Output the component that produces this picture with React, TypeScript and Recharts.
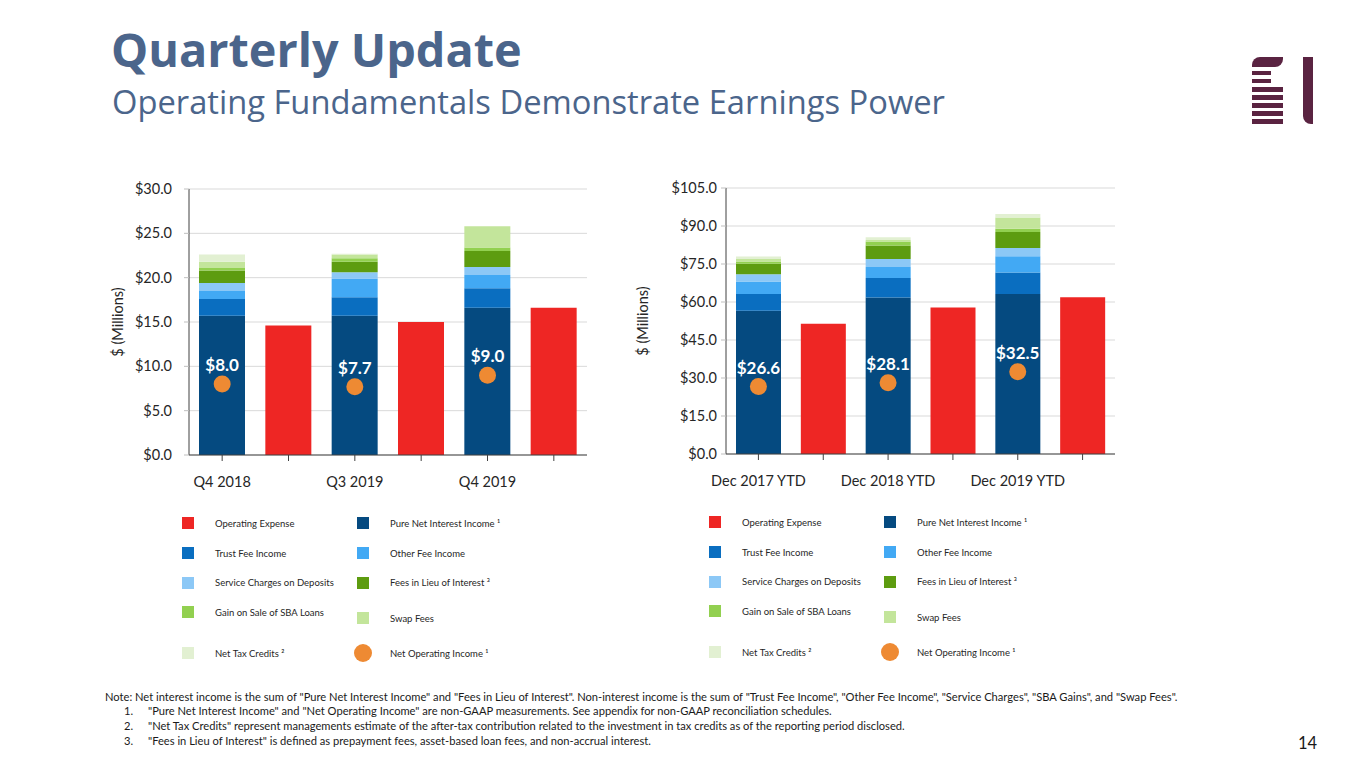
import { ComposedChart, Bar, Line, XAxis, YAxis, CartesianGrid } from 'recharts';

const C = {
  opex: '#ee2624',
  pureNii: '#054a80',
  trust: '#0a6ec0',
  other: '#42a9f4',
  service: '#8cc8f6',
  lieu: '#5d9c10',
  sba: '#92d050',
  swap: '#c3e59b',
  tax: '#e2f0d2',
  noi: '#ee8a33',
};

const FONT = 'Lato, "Noto Sans", sans-serif';
const TITLE_COLOR = '#4b658b';

// quarterly chart ($ millions)
const LEFT_CATEGORIES = ['Q4 2018', 'Q3 2019', 'Q4 2019'];
const LEFT_PURE_NII = [15.7, 15.7, 16.6];
const LEFT_TRUST = [1.9, 2.1, 2.2];
const LEFT_OTHER = [0.9, 2.1, 1.5];
const LEFT_SERVICE = [0.9, 0.7, 0.9];
const LEFT_LIEU = [1.4, 1.2, 1.8];
const LEFT_SBA = [0.3, 0.4, 0.4];
const LEFT_SWAP = [0.7, 0.4, 2.4];
const LEFT_TAX = [0.8, 0.1, 0.0];
const LEFT_OPEX = [14.6, 15.0, 16.6];
const LEFT_NOI = [8.0, 7.7, 9.0];
const LEFT_TICKS = [0, 5, 10, 15, 20, 25, 30];

// year-to-date chart ($ millions)
const RIGHT_CATEGORIES = ['Dec 2017 YTD', 'Dec 2018 YTD', 'Dec 2019 YTD'];
const RIGHT_PURE_NII = [56.5, 61.8, 63.2];
const RIGHT_TRUST = [6.7, 7.7, 8.4];
const RIGHT_OTHER = [4.9, 4.3, 6.5];
const RIGHT_SERVICE = [2.9, 3.2, 3.2];
const RIGHT_LIEU = [4.1, 5.3, 6.3];
const RIGHT_SBA = [0.9, 1.6, 1.3];
const RIGHT_SWAP = [1.0, 0.6, 4.5];
const RIGHT_TAX = [1.0, 1.1, 1.3];
const RIGHT_OPEX = [51.4, 57.8, 61.9];
const RIGHT_NOI = [26.6, 28.1, 32.5];
const RIGHT_TICKS = [0, 15, 30, 45, 60, 75, 90, 105];

const STACK_KEYS = ['pureNii', 'trust', 'other', 'service', 'lieu', 'sba', 'swap', 'tax'] as const;

const FOOTNOTES = [
  '"Pure Net Interest Income" and "Net Operating Income" are non-GAAP measurements. See appendix for non-GAAP reconciliation schedules.',
  '"Net Tax Credits" represent managements estimate of the after-tax contribution related to the investment in tax credits as of the reporting period disclosed.',
  '"Fees in Lieu of Interest" is defined as prepayment fees, asset-based loan fees, and non-accrual interest.',
];

type Series = {
  categories: string[];
  pureNii: number[];
  trust: number[];
  other: number[];
  service: number[];
  lieu: number[];
  sba: number[];
  swap: number[];
  tax: number[];
  opex: number[];
  noi: number[];
};

// one slot for the income stack, one for the expense bar, per period
function buildRows(s: Series) {
  const rows: any[] = [];
  s.categories.forEach((cat, i) => {
    rows.push({
      slot: cat,
      label: cat,
      pureNii: s.pureNii[i],
      trust: s.trust[i],
      other: s.other[i],
      service: s.service[i],
      lieu: s.lieu[i],
      sba: s.sba[i],
      swap: s.swap[i],
      tax: s.tax[i],
      noi: s.noi[i],
    });
    rows.push({ slot: cat + ' opex', label: '', opex: s.opex[i] });
  });
  return rows;
}

function NoiDot(props: any) {
  const { cx, cy, value, index } = props;
  if (value == null || cy == null) return <g key={`noi-${index}`} />;
  return (
    <g key={`noi-${index}`}>
      <circle cx={cx} cy={cy} r={8.5} fill={C.noi} />
      <text
        x={cx}
        y={cy - 13}
        textAnchor="middle"
        fill="#ffffff"
        fontFamily={FONT}
        fontWeight={700}
        fontSize={17}
      >
        {`$${value.toFixed(1)}`}
      </text>
    </g>
  );
}

function StackChart({
  rows,
  ticks,
  barSize,
  width,
  height,
  margin,
  yWidth,
  xHeight,
  yTickMargin,
}: {
  rows: any[];
  ticks: number[];
  barSize: number;
  width: number;
  height: number;
  margin: { top: number; right: number; bottom: number; left: number };
  yWidth: number;
  xHeight: number;
  yTickMargin: number;
}) {
  const tickStyle = { fill: '#262626', fontSize: 14.5, fontFamily: FONT };
  return (
    <ComposedChart width={width} height={height} data={rows} margin={margin}>
      <CartesianGrid vertical={false} stroke="#d9d9d9" />
      <XAxis
        dataKey="slot"
        interval={0}
        tickFormatter={(_v: string, i: number) => rows[i]?.label ?? ''}
        tick={tickStyle}
        tickSize={6}
        tickMargin={16}
        height={xHeight}
        axisLine={{ stroke: '#404040' }}
        tickLine={{ stroke: '#404040' }}
      />
      <YAxis
        domain={[ticks[0], ticks[ticks.length - 1]]}
        ticks={ticks}
        interval={0}
        width={yWidth}
        tickFormatter={(v: number) => `$${v.toFixed(1)}`}
        tick={tickStyle}
        tickSize={5}
        tickMargin={yTickMargin}
        axisLine={{ stroke: '#404040' }}
        tickLine={{ stroke: '#bfbfbf' }}
      />
      {STACK_KEYS.map((k) => (
        <Bar key={k} dataKey={k} stackId="a" fill={C[k]} barSize={barSize} isAnimationActive={false} />
      ))}
      <Bar dataKey="opex" stackId="a" fill={C.opex} barSize={barSize} isAnimationActive={false} />
      <Line
        dataKey="noi"
        stroke="none"
        dot={NoiDot}
        activeDot={false}
        legendType="none"
        isAnimationActive={false}
      />
    </ComposedChart>
  );
}

const LEGEND_LEFT = [
  { label: 'Operating Expense', color: C.opex, dy: 0 },
  { label: 'Trust Fee Income', color: C.trust, dy: 30 },
  { label: 'Service Charges on Deposits', color: C.service, dy: 59.5 },
  { label: 'Gain on Sale of SBA Loans', color: C.sba, dy: 89 },
  { label: 'Net Tax Credits ²', color: C.tax, dy: 130 },
];
const LEGEND_RIGHT = [
  { label: 'Pure Net Interest Income ¹', color: C.pureNii, dy: 0, circle: false },
  { label: 'Other Fee Income', color: C.other, dy: 30, circle: false },
  { label: 'Fees in Lieu of Interest ³', color: C.lieu, dy: 59.5, circle: false },
  { label: 'Swap Fees', color: C.swap, dy: 95, circle: false },
  { label: 'Net Operating Income ¹', color: C.noi, dy: 130, circle: true },
];

function LegendBlock({ x, y }: { x: number; y: number }) {
  const item = (
    it: { label: string; color: string; dy: number; circle?: boolean },
    left: number,
    key: string
  ) => (
    <div
      key={key}
      style={{
        position: 'absolute',
        left,
        top: y + it.dy - 10,
        height: 20,
        display: 'flex',
        alignItems: 'center',
        whiteSpace: 'nowrap',
      }}
    >
      {it.circle ? (
        <span
          style={{ width: 18, height: 18, marginLeft: -3, marginRight: 18, borderRadius: '50%', background: it.color }}
        />
      ) : (
        <span style={{ width: 12, height: 12, marginRight: 21, background: it.color }} />
      )}
      <span style={{ fontFamily: FONT, fontSize: 9.5, color: '#262626' }}>{it.label}</span>
    </div>
  );
  return (
    <>
      {LEGEND_LEFT.map((it, i) => item(it, x, `l${i}`))}
      {LEGEND_RIGHT.map((it, i) => item(it, x + 175, `r${i}`))}
    </>
  );
}

function Logo() {
  const color = '#5a2341';
  const lines = [
    { top: 70.7, w: 19 },
    { top: 79, w: 19 },
    { top: 87.3, w: 31 },
    { top: 95.3, w: 31 },
    { top: 103.3, w: 31 },
    { top: 111.3, w: 31 },
    { top: 119.3, w: 31 },
  ];
  return (
    <>
      <div
        style={{
          position: 'absolute',
          left: 1252,
          top: 57,
          width: 31,
          height: 9.5,
          background: color,
          borderTopLeftRadius: 8,
          borderBottomRightRadius: 8,
        }}
      />
      {lines.map((l, i) => (
        <div key={i} style={{ position: 'absolute', left: 1252, top: l.top, width: l.w, height: 4.4, background: color }} />
      ))}
      <div
        style={{
          position: 'absolute',
          left: 1303,
          top: 57,
          width: 9.5,
          height: 67,
          background: color,
          borderBottomLeftRadius: 8,
        }}
      />
    </>
  );
}

export default function App() {
  const leftRows = buildRows({
    categories: LEFT_CATEGORIES,
    pureNii: LEFT_PURE_NII,
    trust: LEFT_TRUST,
    other: LEFT_OTHER,
    service: LEFT_SERVICE,
    lieu: LEFT_LIEU,
    sba: LEFT_SBA,
    swap: LEFT_SWAP,
    tax: LEFT_TAX,
    opex: LEFT_OPEX,
    noi: LEFT_NOI,
  });
  const rightRows = buildRows({
    categories: RIGHT_CATEGORIES,
    pureNii: RIGHT_PURE_NII,
    trust: RIGHT_TRUST,
    other: RIGHT_OTHER,
    service: RIGHT_SERVICE,
    lieu: RIGHT_LIEU,
    sba: RIGHT_SBA,
    swap: RIGHT_SWAP,
    tax: RIGHT_TAX,
    opex: RIGHT_OPEX,
    noi: RIGHT_NOI,
  });

  const yLabel = (left: number, top: number) => (
    <div
      style={{
        position: 'absolute',
        left: left - 60,
        top: top - 10,
        width: 120,
        height: 20,
        lineHeight: '20px',
        textAlign: 'center',
        transform: 'rotate(-90deg)',
        fontFamily: FONT,
        fontSize: 14.5,
        color: '#262626',
      }}
    >
      $ (Millions)
    </div>
  );

  return (
    <div
      style={{
        position: 'absolute',
        left: 0,
        top: 0,
        width: 1365,
        height: 768,
        background: '#ffffff',
        overflow: 'hidden',
      }}
    >
      <div
        style={{
          position: 'absolute',
          left: 111,
          top: 26,
          fontFamily: '"Open Sans", sans-serif',
          fontWeight: 700,
          fontSize: 46.8,
          lineHeight: 1,
          color: TITLE_COLOR,
          whiteSpace: 'nowrap',
        }}
      >
        Quarterly Update
      </div>
      <div
        style={{
          position: 'absolute',
          left: 112,
          top: 86,
          fontFamily: '"Open Sans", sans-serif',
          fontSize: 32.7,
          lineHeight: 1,
          color: TITLE_COLOR,
          whiteSpace: 'nowrap',
        }}
      >
        Operating Fundamentals Demonstrate Earnings Power
      </div>
      <Logo />

      <div style={{ position: 'absolute', left: 110, top: 170 }}>
        <StackChart
          rows={leftRows}
          ticks={LEFT_TICKS}
          barSize={46}
          width={490}
          height={330}
          margin={{ top: 19, right: 13, bottom: 0, left: 0 }}
          yWidth={79}
          xHeight={45}
          yTickMargin={12}
        />
      </div>
      {yLabel(118, 322)}

      <div style={{ position: 'absolute', left: 640, top: 170 }}>
        <StackChart
          rows={rightRows}
          ticks={RIGHT_TICKS}
          barSize={45}
          width={490}
          height={330}
          margin={{ top: 18, right: 15, bottom: 0, left: 0 }}
          yWidth={86}
          xHeight={46}
          yTickMargin={4}
        />
      </div>
      {yLabel(643, 321)}

      <LegendBlock x={182} y={523.3} />
      <LegendBlock x={709} y={522.3} />

      <div
        style={{
          position: 'absolute',
          left: 105,
          top: 689.5,
          fontFamily: FONT,
          fontSize: 11.15,
          lineHeight: '14.7px',
          color: '#1a1a1a',
          whiteSpace: 'nowrap',
        }}
      >
        <div>
          Note: Net interest income is the sum of "Pure Net Interest Income" and "Fees in Lieu of Interest". Non-interest
          income is the sum of "Trust Fee Income", "Other Fee Income", "Service Charges", "SBA Gains", and "Swap Fees".
        </div>
        {FOOTNOTES.map((t, i) => (
          <div key={i} style={{ display: 'flex' }}>
            <span style={{ width: 24, marginLeft: 19 }}>{`${i + 1}.`}</span>
            <span>{t}</span>
          </div>
        ))}
      </div>

      <div
        style={{
          position: 'absolute',
          left: 1298,
          top: 734.5,
          fontFamily: FONT,
          fontSize: 16.5,
          lineHeight: 1,
          color: '#1a1a1a',
        }}
      >
        14
      </div>
    </div>
  );
}
